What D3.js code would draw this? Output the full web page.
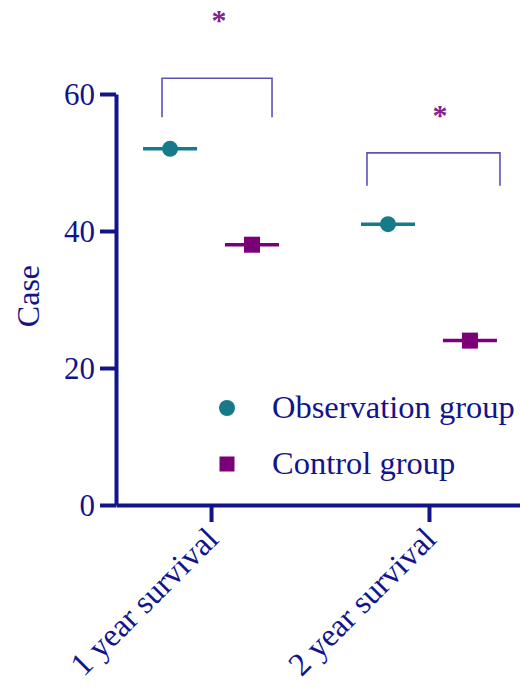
<!DOCTYPE html>
<html>
<head>
<meta charset="utf-8">
<script src="https://cdn.jsdelivr.net/npm/d3@7"></script>
<style>
  body { margin: 0; background: #fff; }
  text { font-family: "Liberation Serif", "Times New Roman", serif; }
</style>
</head>
<body>
<div id="chart"></div>
<script>
const categories = ['1 year survival', '2 year survival'];
const groups = ['Observation group', 'Control group'];
const observation = [52, 41];
const control = [38, 24];
const yTicks = [0, 20, 40, 60];
// significance brackets, in data units
const bracketTop = [62.3, 51.4];
const bracketFoot = [56.6, 46.6];
const starLevel = [71.2, 57.4];

const navy = '#14148a';
const teal = '#167a8b';
const purple = '#7a0078';

const width = 520, height = 689;
const svg = d3.select('#chart').append('svg')
  .attr('width', width)
  .attr('height', height);

const x = d3.scalePoint()
  .domain(categories)
  .range([116, 524])
  .padding(0.436);

const y = d3.scaleLinear()
  .domain([0, 60])
  .range([505, 94]);

const step = x.step();
const groupOffset = d3.scalePoint()
  .domain(groups)
  .range([-step * 0.188, step * 0.188]);

// axes
const yAxis = svg.append('g')
  .attr('transform', 'translate(116,0)')
  .call(d3.axisLeft(y).tickValues(yTicks).tickSize(16).tickPadding(5).tickSizeOuter(0));
yAxis.select('.domain').attr('stroke', navy).attr('stroke-width', 4);
yAxis.selectAll('.tick line').attr('stroke', navy).attr('stroke-width', 4);
yAxis.selectAll('.tick text')
  .attr('fill', navy)
  .attr('font-size', 31)
  .attr('dy', '0.34em');

const xAxis = svg.append('g')
  .attr('transform', 'translate(0,505)')
  .call(d3.axisBottom(x).tickSize(17).tickSizeOuter(0).tickFormat(''));
xAxis.select('.domain').attr('stroke', navy).attr('stroke-width', 4);
xAxis.selectAll('.tick line').attr('stroke', navy).attr('stroke-width', 4);

svg.append('g')
  .selectAll('text')
  .data(categories)
  .enter()
  .append('text')
  .attr('transform', d => `translate(${x(d) + 9},${541}) rotate(-45)`)
  .attr('text-anchor', 'end')
  .attr('fill', navy)
  .attr('font-size', 32.5)
  .text(d => d);

svg.append('text')
  .attr('transform', `translate(39,${y(30.5)}) rotate(-90)`)
  .attr('text-anchor', 'middle')
  .attr('fill', navy)
  .attr('font-size', 32)
  .text('Case');

// brackets
const brackets = svg.append('g');
brackets.selectAll('path')
  .data(categories)
  .enter()
  .append('path')
  .attr('fill', 'none')
  .attr('stroke', '#5a52b8')
  .attr('stroke-width', 1.6)
  .attr('d', (d, i) => {
    const x0 = x(d) + (i === 0 ? -49 : -62);
    const x1 = x(d) + (i === 0 ? 61 : 71);
    return `M${x0},${y(bracketFoot[i])}V${y(bracketTop[i])}H${x1}V${y(bracketFoot[i])}`;
  });

brackets.selectAll('text')
  .data(categories)
  .enter()
  .append('text')
  .attr('x', (d, i) => x(d) + (i === 0 ? 8 : 11))
  .attr('y', (d, i) => y(starLevel[i]) + 13)
  .attr('text-anchor', 'middle')
  .attr('fill', '#86208f')
  .attr('font-size', 30)
  .attr('font-weight', 'bold')
  .text('*');

// error lines and points
const series = [
  { name: groups[0], values: observation, color: teal, shape: 'circle' },
  { name: groups[1], values: control, color: purple, shape: 'square' }
];

series.forEach(s => {
  const g = svg.append('g');
  g.selectAll('line')
    .data(categories)
    .enter()
    .append('line')
    .attr('x1', d => x(d) + groupOffset(s.name) - 27)
    .attr('x2', d => x(d) + groupOffset(s.name) + 27)
    .attr('y1', (d, i) => y(s.values[i]))
    .attr('y2', (d, i) => y(s.values[i]))
    .attr('stroke', s.color)
    .attr('stroke-width', 3.5);

  if (s.shape === 'circle') {
    g.selectAll('circle')
      .data(categories)
      .enter()
      .append('circle')
      .attr('cx', d => x(d) + groupOffset(s.name))
      .attr('cy', (d, i) => y(s.values[i]))
      .attr('r', 8)
      .attr('fill', s.color);
  } else {
    g.selectAll('rect')
      .data(categories)
      .enter()
      .append('rect')
      .attr('x', d => x(d) + groupOffset(s.name) - 8)
      .attr('y', (d, i) => y(s.values[i]) - 8)
      .attr('width', 16)
      .attr('height', 16)
      .attr('fill', s.color);
  }
});

// legend
const legend = svg.append('g').attr('transform', 'translate(227,408)');
const items = legend.selectAll('g')
  .data(series)
  .enter()
  .append('g')
  .attr('transform', (d, i) => `translate(0,${i * 56})`);
items.filter(d => d.shape === 'circle')
  .append('circle')
  .attr('r', 8)
  .attr('fill', d => d.color);
items.filter(d => d.shape === 'square')
  .append('rect')
  .attr('x', -7.5)
  .attr('y', -7.5)
  .attr('width', 15)
  .attr('height', 15)
  .attr('fill', d => d.color);
items.append('text')
  .attr('x', 45)
  .attr('y', 10)
  .attr('fill', navy)
  .attr('font-size', 32.5)
  .text(d => d.name);
</script>
</body>
</html>
